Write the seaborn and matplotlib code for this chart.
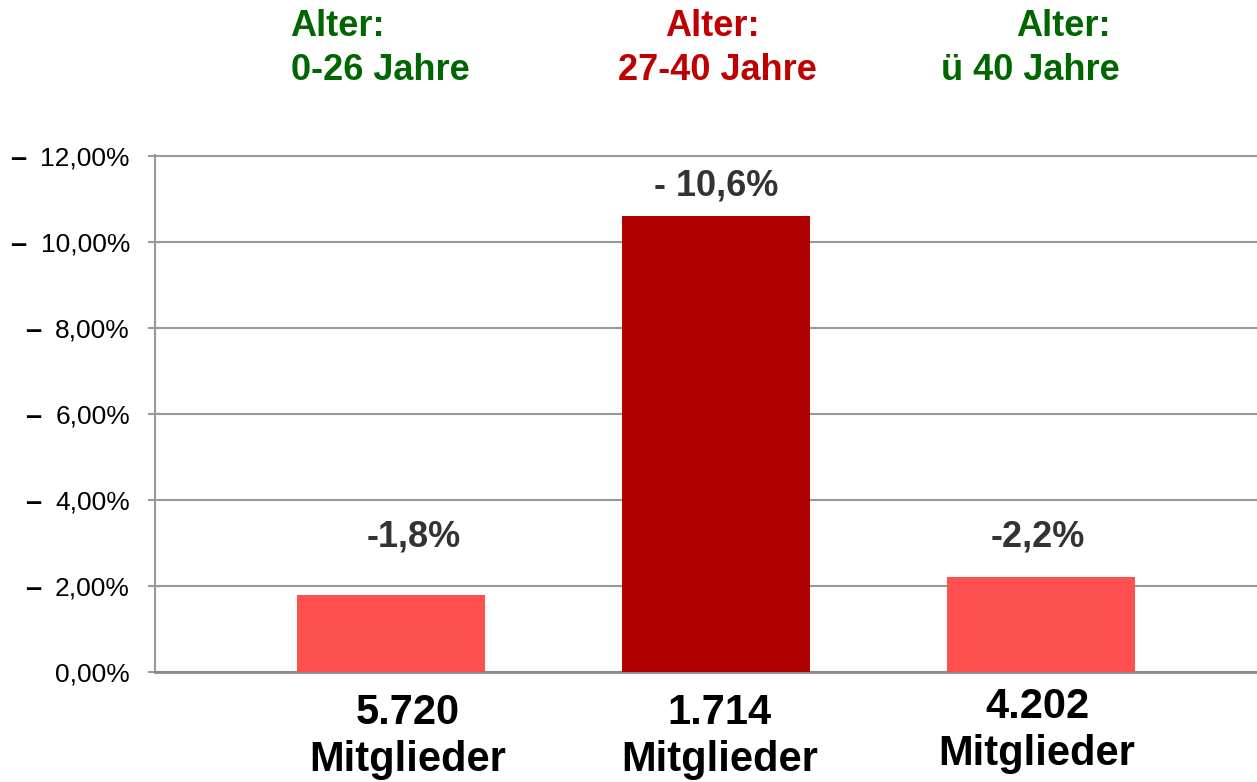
import matplotlib
matplotlib.use('Agg')
import matplotlib.pyplot as plt
import seaborn as sns

# Daten
gruppen = ['0-26 Jahre', '27-40 Jahre', 'ü 40 Jahre']
rueckgang = [1.8, 10.6, 2.2]  # Prozent
wert_labels = ['-1,8%', '- 10,6%', '-2,2%']
mitglieder = ['5.720', '1.714', '4.202']
balken_farben = ['#FF5050', '#B00000', '#FF5050']
kopf_farben = ['#006600', '#C00000', '#006600']
y_ticks = [0, 2, 4, 6, 8, 10, 12]

sns.set_theme(style='white')
plt.rcParams['font.family'] = ['Liberation Sans', 'DejaVu Sans']

fig = plt.figure(figsize=(12.57, 7.82), dpi=100)
ax = fig.add_axes([155 / 1257, 1 - 672 / 782, 1102 / 1257, 517 / 782])

sns.barplot(x=gruppen, y=rueckgang, hue=gruppen, palette=balken_farben,
            width=0.58, legend=False, saturation=1, linewidth=0, ax=ax, zorder=3)

ax.set_xlim(-0.726, 2.665)
ax.set_ylim(0, 12.03)
ax.set_yticks(y_ticks)
ax.set_yticklabels([f'{t:.2f}'.replace('.', ',') + '%' for t in y_ticks],
                   fontsize=19, color='black')
ax.set_xticks([])
ax.tick_params(axis='y', length=5, width=1.5, color='#999999', pad=13, left=True)
ax.yaxis.grid(True, color='#999999', lw=1.5, zorder=0)
ax.set_axisbelow(True)
for s in ['top', 'right']:
    ax.spines[s].set_visible(False)
ax.spines['left'].set_color('#999999')
ax.spines['left'].set_linewidth(1.5)
ax.spines['bottom'].set_color('#888888')
ax.spines['bottom'].set_linewidth(2)

# Werte über den Balken
wert_dx = [0.07, 0.0, -0.01]
wert_dy = [1.33, 0.7, 0.95]
for i, (v, lab) in enumerate(zip(rueckgang, wert_labels)):
    ax.text(i + wert_dx[i], v + wert_dy[i], lab, ha='center', va='center',
            fontsize=26, fontweight='bold', color='#333333')

# Mitglieder unter den Balken
xt = ax.get_xaxis_transform()
unten_dx = [0.052, 0.012, -0.012]
unten_dy = [0.0, 0.0, 0.012]
for i, m in enumerate(mitglieder):
    ax.text(i + unten_dx[i], -0.0790 + unten_dy[i], m, transform=xt,
            ha='center', va='center', fontsize=30, fontweight='bold', color='black')
    ax.text(i + unten_dx[i], -0.171 + unten_dy[i], 'Mitglieder', transform=xt,
            ha='center', va='center', fontsize=30, fontweight='bold', color='black')

# Kopfzeilen
kopf_dx1 = [-0.166, -0.012, 0.068]
kopf_dx2 = [-0.031, 0.006, -0.031]
for i, g in enumerate(gruppen):
    ax.text(i + kopf_dx1[i], 1.2476, 'Alter:', transform=xt, ha='center', va='center',
            fontsize=26, fontweight='bold', color=kopf_farben[i])
    ax.text(i + kopf_dx2[i], 1.1644, g, transform=xt, ha='center', va='center',
            fontsize=26, fontweight='bold', color=kopf_farben[i])

# fette Striche vor den Achsenbeschriftungen (nicht bei 0)
fig.canvas.draw()
inv = fig.transFigure.inverted()
for t, lab in zip(y_ticks, ax.get_yticklabels()):
    if t == 0:
        continue
    bb = lab.get_window_extent()
    x0, y0 = inv.transform((bb.x0 - 14, (bb.y0 + bb.y1) / 2))
    fig.text(x0, y0, '–', ha='right', va='center', fontsize=21,
             fontweight='bold', color='black')

fig.savefig('out.png', dpi=100, facecolor='white')
